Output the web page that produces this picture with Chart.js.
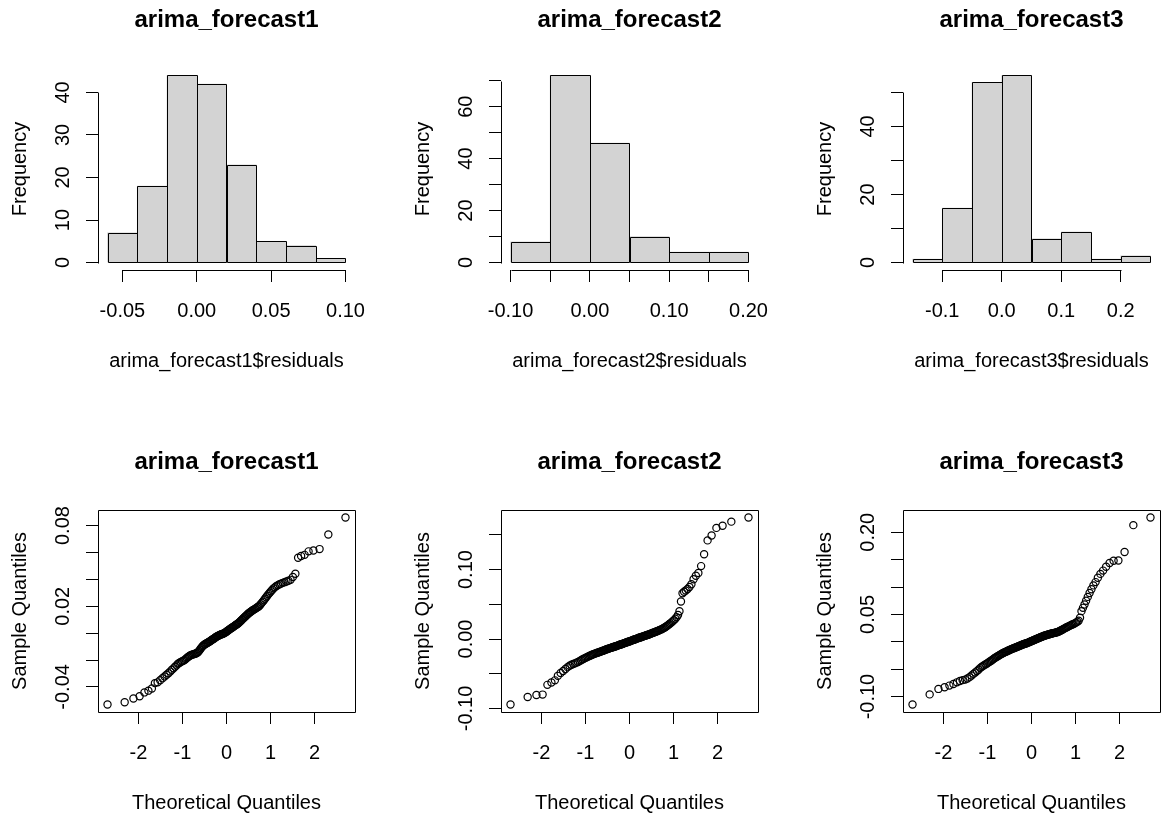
<!DOCTYPE html>
<html><head><meta charset="utf-8">
<script src="https://cdn.jsdelivr.net/npm/chart.js@4.4.1/dist/chart.umd.min.js"></script>
<style>
html,body{margin:0;padding:0;background:#fff;overflow:hidden;width:1167px;height:824px;position:relative}
.p{position:absolute}
canvas{display:block}
</style></head><body>
<div class="p" style="left:0px;top:0px"><canvas id="c0" width="385" height="382"></canvas></div>
<div class="p" style="left:403px;top:0px"><canvas id="c1" width="385" height="382"></canvas></div>
<div class="p" style="left:805px;top:0px"><canvas id="c2" width="385" height="382"></canvas></div>
<div class="p" style="left:0px;top:442px"><canvas id="c3" width="385" height="382"></canvas></div>
<div class="p" style="left:403px;top:442px"><canvas id="c4" width="385" height="382"></canvas></div>
<div class="p" style="left:805px;top:442px"><canvas id="c5" width="385" height="382"></canvas></div>
<script>
// ---------- DATA ----------
const titles = ['arima_forecast1', 'arima_forecast2', 'arima_forecast3'];
const histXLabelTitles = ['arima_forecast1$residuals', 'arima_forecast2$residuals', 'arima_forecast3$residuals'];

const h1Breaks = [-0.06, -0.04, -0.02, 0.00, 0.02, 0.04, 0.06, 0.08, 0.10];
const h1Counts = [7, 18, 44, 42, 23, 5, 4, 1];
const h2Breaks = [-0.10, -0.05, 0.00, 0.05, 0.10, 0.15, 0.20];
const h2Counts = [8, 72, 46, 10, 4, 4];
const h3Breaks = [-0.15, -0.10, -0.05, 0.00, 0.05, 0.10, 0.15, 0.20, 0.25];
const h3Counts = [1, 16, 53, 55, 7, 9, 1, 2];

const h1XTicks = [-0.05, 0.00, 0.05, 0.10];
const h1XLabels = ['-0.05', '0.00', '0.05', '0.10'];
const h2XTicks = [-0.10, -0.05, 0.00, 0.05, 0.10, 0.15, 0.20];
const h2XLabels = ['-0.10', '', '0.00', '', '0.10', '', '0.20'];
const h3XTicks = [-0.1, 0.0, 0.1, 0.2];
const h3XLabels = ['-0.1', '0.0', '0.1', '0.2'];

const h1YTicks = [0, 10, 20, 30, 40];
const h1YLabels = ['0', '10', '20', '30', '40'];
const h2YTicks = [0, 10, 20, 30, 40, 50, 60, 70];
const h2YLabels = ['0', '', '20', '', '40', '', '60', ''];
const h3YTicks = [0, 10, 20, 30, 40, 50];
const h3YLabels = ['0', '', '20', '', '40', ''];

const theoQ = [
-2.700,-2.311,-2.112,-1.972,-1.863,-1.772,-1.693,-1.625,-1.563,-1.506,-1.454,-1.405,-1.360,-1.318,-1.277,-1.239,-1.203,-1.168,-1.134,-1.101,
-1.070,-1.040,-1.010,-0.981,-0.953,-0.926,-0.900,-0.874,-0.849,-0.824,-0.800,-0.776,-0.753,-0.731,-0.708,-0.686,-0.664,-0.643,-0.621,-0.600,
-0.579,-0.559,-0.538,-0.519,-0.499,-0.479,-0.460,-0.440,-0.421,-0.402,-0.383,-0.365,-0.346,-0.328,-0.310,-0.291,-0.273,-0.255,-0.237,-0.219,
-0.202,-0.184,-0.166,-0.149,-0.131,-0.113,-0.096,-0.078,-0.061,-0.044,-0.026,-0.009,
0.009,0.026,0.044,0.061,0.078,0.096,0.113,0.131,0.149,0.166,0.184,0.202,0.219,0.237,0.255,0.273,0.291,0.310,0.328,0.346,
0.365,0.383,0.402,0.421,0.440,0.460,0.479,0.499,0.519,0.538,0.559,0.579,0.600,0.621,0.643,0.664,0.686,0.708,0.731,0.753,
0.776,0.800,0.824,0.849,0.874,0.900,0.926,0.953,0.981,1.010,1.040,1.070,1.101,1.134,1.168,1.203,1.239,1.277,1.318,1.360,
1.405,1.454,1.506,1.563,1.625,1.693,1.772,1.863,1.972,2.112,2.311,2.700];

const qq1Sample = [
-0.0531,-0.0514,-0.0486,-0.0470,-0.0441,-0.0428,-0.0412,
-0.0372,-0.0366,-0.0350,-0.0335,-0.0322,-0.0310,-0.0298,-0.0286,-0.0272,-0.0262,-0.0250,-0.0240,-0.0228,-0.0222,-0.0215,-0.0210,-0.0205,-0.0201,
-0.0192,-0.0185,-0.0178,-0.0172,-0.0167,-0.0163,-0.0160,-0.0157,-0.0155,-0.0153,-0.0150,-0.0146,-0.0140,-0.0132,-0.0122,-0.0113,-0.0104,-0.0096,
-0.0090,-0.0085,-0.0081,-0.0077,-0.0073,-0.0070,-0.0066,-0.0062,-0.0058,-0.0053,-0.0049,-0.0046,-0.0042,-0.0038,-0.0033,-0.0029,-0.0025,-0.0022,
-0.0019,-0.0016,-0.0013,-0.0010,-0.0008,-0.0006,-0.0004,-0.0002,
0.0002,0.0005,0.0009,0.0014,0.0018,0.0022,0.0026,0.0030,0.0034,0.0038,0.0042,0.0046,0.0050,0.0054,0.0058,0.0062,0.0066,0.0070,0.0075,0.0080,
0.0086,0.0092,0.0098,0.0104,0.0110,0.0116,0.0122,0.0128,0.0134,0.0140,0.0146,0.0151,0.0156,0.0161,0.0166,0.0171,0.0175,0.0179,0.0184,0.0189,
0.0194,0.0198,
0.0205,0.0214,0.0225,0.0234,0.0245,0.0256,0.0267,0.0278,0.0290,0.0300,0.0311,0.0322,0.0333,0.0342,0.0350,0.0357,0.0363,0.0368,0.0374,0.0379,
0.0384,0.0390,0.0396,
0.0418,0.0442,0.0560,0.0573,0.0582,0.0608,0.0614,0.0625,0.0733,0.0860];

const qq2Sample = [
-0.0943,-0.0834,-0.0805,-0.0800,-0.0660,-0.0625,-0.0595,-0.0530,
-0.0490,-0.0460,-0.0432,-0.0405,-0.0385,-0.0370,-0.0360,-0.0350,-0.0340,-0.0330,-0.0318,-0.0305,-0.0295,-0.0285,-0.0275,-0.0266,-0.0257,-0.0249,
-0.0241,-0.0234,-0.0227,-0.0220,-0.0214,-0.0208,-0.0203,-0.0198,-0.0193,-0.0188,-0.0183,-0.0178,-0.0173,-0.0168,-0.0163,-0.0158,-0.0153,-0.0148,
-0.0143,-0.0139,-0.0135,-0.0131,-0.0127,-0.0123,-0.0119,-0.0115,-0.0111,-0.0107,-0.0103,-0.0099,-0.0095,-0.0091,-0.0087,-0.0083,-0.0079,-0.0075,
-0.0071,-0.0067,-0.0063,-0.0059,-0.0055,-0.0051,-0.0047,-0.0043,-0.0039,-0.0035,-0.0031,-0.0027,-0.0023,-0.0019,-0.0015,-0.0011,-0.0007,-0.0003,
0.0002,0.0006,0.0010,0.0014,0.0018,0.0022,0.0026,0.0030,0.0034,0.0038,0.0042,0.0046,0.0050,0.0054,0.0058,0.0062,0.0066,0.0071,0.0076,0.0081,
0.0086,0.0091,0.0096,0.0101,0.0106,0.0111,0.0117,0.0123,0.0129,0.0135,0.0142,0.0150,0.0158,0.0167,0.0177,0.0188,0.0200,0.0213,0.0226,0.0240,
0.0255,0.0272,0.0292,0.0315,0.0345,0.0400,
0.0540,0.0660,0.0680,0.0700,0.0720,0.0750,0.0790,0.0860,0.0910,0.0950,
0.1050,0.1220,0.1420,0.1490,0.1600,0.1630,0.1690,0.1750];

const qq3Sample = [
-0.1145,-0.0960,-0.0860,-0.0830,-0.0800,-0.0770,-0.0740,-0.0715,-0.0700,-0.0690,-0.0670,-0.0645,-0.0615,-0.0585,-0.0560,-0.0535,-0.0510,
-0.0480,-0.0460,-0.0440,-0.0425,-0.0410,-0.0395,-0.0380,-0.0365,-0.0350,-0.0335,-0.0320,-0.0305,-0.0292,-0.0280,-0.0268,-0.0256,-0.0245,-0.0234,
-0.0224,-0.0214,-0.0205,-0.0196,-0.0188,-0.0180,-0.0172,-0.0164,-0.0157,-0.0150,-0.0143,-0.0136,-0.0129,-0.0122,-0.0116,-0.0110,-0.0104,-0.0098,
-0.0092,-0.0086,-0.0080,-0.0074,-0.0068,-0.0062,-0.0056,-0.0050,-0.0045,-0.0040,-0.0035,-0.0030,-0.0025,-0.0020,-0.0015,-0.0010,-0.0004,
0.0004,0.0010,0.0016,0.0022,0.0028,0.0034,0.0040,0.0046,0.0052,0.0058,0.0064,0.0070,0.0076,0.0082,0.0088,0.0094,0.0100,0.0106,0.0111,0.0116,
0.0121,0.0126,0.0131,0.0135,0.0139,0.0143,0.0147,0.0151,0.0155,0.0159,0.0163,0.0167,0.0171,0.0176,0.0182,0.0189,0.0197,0.0206,0.0216,0.0226,
0.0236,0.0246,0.0256,0.0266,0.0276,0.0286,0.0296,0.0306,0.0316,0.0326,0.0337,0.0350,0.0365,0.0385,0.0440,
0.0560,0.0620,0.0680,0.0750,0.0820,0.0890,0.0960,
0.1030,0.1090,0.1170,0.1240,0.1300,0.1370,0.1440,0.1480,0.1485,
0.1640,0.2130,0.2270];

const qqXTicks = [-2, -1, 0, 1, 2];
const qqXLabels = ['-2', '-1', '0', '1', '2'];
const qq1YTicks = [-0.04, -0.02, 0.00, 0.02, 0.04, 0.06, 0.08];
const qq1YLabels = ['-0.04', '', '', '0.02', '', '', '0.08'];
const qq2YTicks = [-0.10, -0.05, 0.00, 0.05, 0.10, 0.15];
const qq2YLabels = ['-0.10', '', '0.00', '', '0.10', ''];
const qq3YTicks = [-0.10, -0.05, 0.00, 0.05, 0.10, 0.15, 0.20];
const qq3YLabels = ['-0.10', '', '', '0.05', '', '', '0.20'];

// ---------- STYLE / LAYOUT ----------
const FAMILY = '"Liberation Sans", Arial, Helvetica, sans-serif';
Chart.defaults.font.family = FAMILY;
Chart.defaults.font.size = 20;
Chart.defaults.color = '#000';
const Y_AXIS_W = 98, X_AXIS_H = 112, TICK_LEN = 12, LABEL_GAP = 35;

const mctx = document.createElement('canvas').getContext('2d');
mctx.font = '20px ' + FAMILY;
function yPad(labels) {
  const w = Math.max(...labels.map(l => mctx.measureText(l).width));
  return LABEL_GAP - TICK_LEN - w / 2;
}
function padRange(lo, hi) { const r = hi - lo; return [lo - 0.04 * r, hi + 0.04 * r]; }
function px(v) { return Math.round(v) + 0.5; }

const rAxes = {
  id: 'rAxes',
  afterDatasetsDraw(chart, args, opts) {
    if (opts.box) return;
    // crisp 1px outlines for histogram bars, from the bar elements' own geometry
    const ctx = chart.ctx;
    ctx.save();
    ctx.strokeStyle = '#000';
    ctx.lineWidth = 1;
    ctx.beginPath();
    chart.getDatasetMeta(0).data.forEach(b => {
      const p = b.getProps(['x', 'y', 'base', 'width'], true);
      const l = Math.round(p.x - p.width / 2), r = Math.round(p.x + p.width / 2);
      const t = Math.round(p.y), bt = Math.round(p.base);
      ctx.rect(l + 0.5, t + 0.5, r - l, bt - t);
    });
    ctx.stroke();
    ctx.restore();
  },
  afterDraw(chart, args, opts) {
    const ctx = chart.ctx, a = chart.chartArea;
    ctx.save();
    ctx.strokeStyle = '#000';
    ctx.lineWidth = 1;
    ctx.beginPath();
    if (opts.box) {
      ctx.rect(px(a.left), px(a.top), Math.round(a.right) - Math.round(a.left), Math.round(a.bottom) - Math.round(a.top));
    } else {
      const xs = chart.scales.x, ys = chart.scales.y;
      const xt = xs.ticks, yt = ys.ticks;
      const yb = px(a.bottom), xl = px(a.left);
      ctx.moveTo(px(xs.getPixelForValue(xt[0].value)), yb);
      ctx.lineTo(px(xs.getPixelForValue(xt[xt.length - 1].value)), yb);
      ctx.moveTo(xl, px(ys.getPixelForValue(yt[0].value)));
      ctx.lineTo(xl, px(ys.getPixelForValue(yt[yt.length - 1].value)));
    }
    ctx.stroke();
    ctx.restore();
  }
};

function scaleOpts(axis, range, tickVals, tickLabels, titleText) {
  const o = {
    type: 'linear',
    min: range[0], max: range[1],
    offset: false,
    border: { display: false },
    grid: { display: true, drawOnChartArea: false, drawTicks: true, tickLength: TICK_LEN, color: '#000', lineWidth: 1, offset: false },
    afterBuildTicks: s => { s.ticks = tickVals.map(v => ({ value: v })); },
    ticks: {
      autoSkip: false,
      callback: (v, i) => tickLabels[i],
      color: '#000',
      font: { size: 20 }
    },
    title: { display: true, text: titleText, color: '#000', font: { size: 20 } }
  };
  if (axis === 'x') {
    o.afterFit = s => { s.height = X_AXIS_H; };
    o.ticks.maxRotation = 0; o.ticks.minRotation = 0;
    o.ticks.padding = 17;
    o.title.padding = { top: 0, bottom: 8.5 };
  } else {
    o.afterFit = s => { s.width = Y_AXIS_W; };
    o.ticks.maxRotation = 90; o.ticks.minRotation = 90;
    o.ticks.crossAlign = 'center';
    o.ticks.padding = yPad(tickLabels);
    o.title.padding = { top: 8, bottom: 0 };
  }
  return o;
}

function baseOptions(title, xScale, yScale, box) {
  return {
    responsive: false,
    animation: false,
    devicePixelRatio: 1,
    layout: { padding: { left: 0, right: 30, top: 0, bottom: 0 } },
    plugins: {
      legend: { display: false },
      tooltip: { enabled: false },
      title: {
        display: true, text: title, fullSize: false, color: '#000',
        font: { size: 24, weight: 'bold' },
        padding: { top: 5.6, bottom: 33.6 }
      },
      rAxes: { box: box }
    },
    scales: { x: xScale, y: yScale }
  };
}

function makeHist(id, title, xlab, breaks, counts, xT, xL, yT, yL) {
  const data = counts.map((c, i) => ({ x: (breaks[i] + breaks[i + 1]) / 2, y: c }));
  const xr = padRange(breaks[0], breaks[breaks.length - 1]);
  const yr = padRange(0, Math.max(...counts));
  new Chart(document.getElementById(id), {
    type: 'bar',
    data: { datasets: [{
      data: data,
      backgroundColor: '#D3D3D3',
      borderWidth: 0,
      borderSkipped: false,
      barPercentage: 1.0,
      categoryPercentage: 1.0
    }] },
    options: baseOptions(title, scaleOpts('x', xr, xT, xL, xlab), scaleOpts('y', yr, yT, yL, 'Frequency'), false),
    plugins: [rAxes]
  });
}

function makeQQ(id, title, sample, yT, yL) {
  const data = theoQ.map((x, i) => ({ x: x, y: sample[i] }));
  const xr = padRange(Math.min(...theoQ), Math.max(...theoQ));
  const yr = padRange(Math.min(...sample), Math.max(...sample));
  new Chart(document.getElementById(id), {
    type: 'scatter',
    data: { datasets: [{
      data: data,
      pointStyle: 'circle',
      pointRadius: 3.6,
      pointBorderWidth: 1.2,
      pointBorderColor: '#000',
      pointBackgroundColor: 'rgba(0,0,0,0)',
      showLine: false
    }] },
    options: baseOptions(title, scaleOpts('x', xr, qqXTicks, qqXLabels, 'Theoretical Quantiles'), scaleOpts('y', yr, yT, yL, 'Sample Quantiles'), true),
    plugins: [rAxes]
  });
}

makeHist('c0', titles[0], histXLabelTitles[0], h1Breaks, h1Counts, h1XTicks, h1XLabels, h1YTicks, h1YLabels);
makeHist('c1', titles[1], histXLabelTitles[1], h2Breaks, h2Counts, h2XTicks, h2XLabels, h2YTicks, h2YLabels);
makeHist('c2', titles[2], histXLabelTitles[2], h3Breaks, h3Counts, h3XTicks, h3XLabels, h3YTicks, h3YLabels);
makeQQ('c3', titles[0], qq1Sample, qq1YTicks, qq1YLabels);
makeQQ('c4', titles[1], qq2Sample, qq2YTicks, qq2YLabels);
makeQQ('c5', titles[2], qq3Sample, qq3YTicks, qq3YLabels);
</script>
</body></html>
